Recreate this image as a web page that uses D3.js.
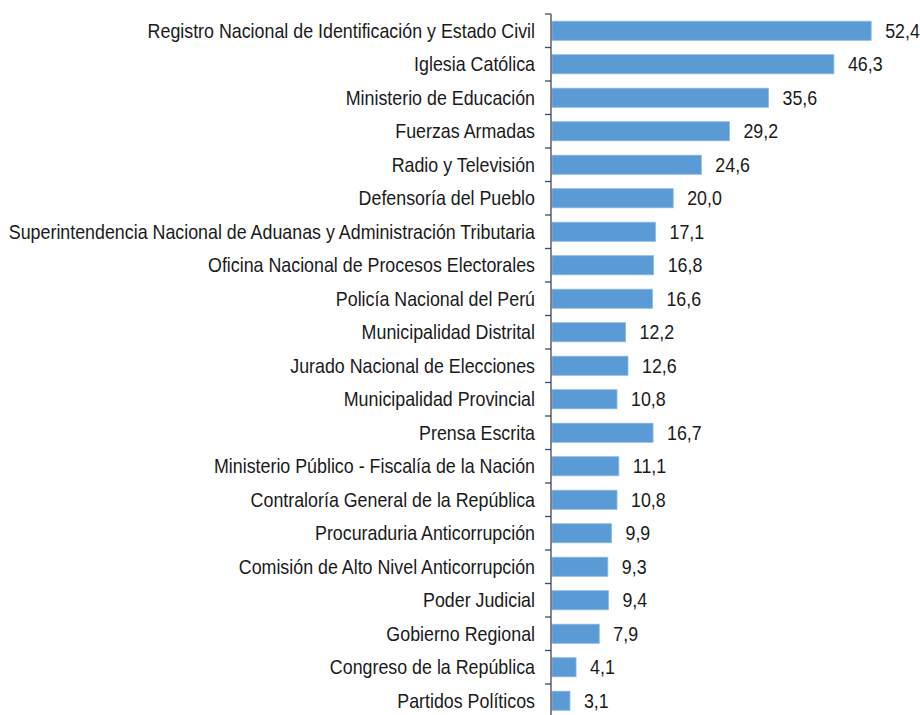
<!DOCTYPE html>
<html>
<head>
<meta charset="utf-8">
<script src="https://cdn.jsdelivr.net/npm/d3@7"></script>
<style>
  body { margin: 0; background: #fff; }
  text { font-family: "Liberation Sans", Arial, sans-serif; fill: #1a1a1a; }
</style>
</head>
<body>
<div id="chart"></div>
<script>
// categories, top to bottom
const institutions = [
  "Registro Nacional de Identificación y Estado Civil",
  "Iglesia Católica",
  "Ministerio de Educación",
  "Fuerzas Armadas",
  "Radio y Televisión",
  "Defensoría del Pueblo",
  "Superintendencia Nacional de Aduanas y Administración Tributaria",
  "Oficina Nacional de Procesos Electorales",
  "Policía Nacional del Perú",
  "Municipalidad Distrital",
  "Jurado Nacional de Elecciones",
  "Municipalidad Provincial",
  "Prensa Escrita",
  "Ministerio Público - Fiscalía de la Nación",
  "Contraloría General de la República",
  "Procuraduria Anticorrupción",
  "Comisión de Alto Nivel Anticorrupción",
  "Poder Judicial",
  "Gobierno Regional",
  "Congreso de la República",
  "Partidos Políticos"
];

const confianza = [52.4, 46.3, 35.6, 29.2, 24.6, 20.0, 17.1, 16.8, 16.6, 12.2, 12.6,
  10.8, 16.7, 11.1, 10.8, 9.9, 9.3, 9.4, 7.9, 4.1, 3.1];

const data = institutions.map((name, i) => ({ name: name, value: confianza[i] }));

const width = 920;
const height = 715;
const fontSize = 19.5;
const squeeze = 0.915; // the original text is narrow (Arial Narrow look)

const svg = d3.select("#chart").append("svg")
  .attr("width", width)
  .attr("height", height);

// scales
const x = d3.scaleLinear()
  .domain([0, 60])
  .range([551, 551 + 60 * 6.11]);

const y = d3.scaleBand()
  .domain(institutions)
  .range([14, 14 + institutions.length * 33.5])
  .paddingInner(0.43)
  .paddingOuter(0.215);

// bars
svg.selectAll(".bar")
  .data(data)
  .enter()
  .append("rect")
    .attr("class", "bar")
    .attr("x", x(0) + 1)
    .attr("y", d => y(d.name))
    .attr("width", d => x(d.value) - x(0) - 1)
    .attr("height", y.bandwidth())
    .style("fill", "#5b9bd5")
    .style("stroke", "#8db8e3")
    .style("stroke-width", 0.8);

// value labels
svg.selectAll(".val")
  .data(data)
  .enter()
  .append("text")
    .attr("class", "val")
    .attr("transform", d => `translate(${ x(d.value) + 14 }, ${ y(d.name) + y.bandwidth() / 2 }) scale(${ squeeze }, 1)`)
    .attr("dy", "0.36em")
    .style("font-size", fontSize + "px")
    .text(d => d3.format(".1f")(d.value).replace(".", ","));

// category axis with ticks between categories
const axisG = svg.append("g").attr("class", "axis");
const step = y.step();
const y0 = y.range()[0];

axisG.append("line")
  .attr("x1", x(0)).attr("x2", x(0))
  .attr("y1", y0).attr("y2", y.range()[1])
  .style("stroke", "#3b4a5c")
  .style("stroke-width", 1.3);

axisG.selectAll(".tick")
  .data(d3.range(institutions.length + 1))
  .enter()
  .append("line")
    .attr("x1", x(0) - 6).attr("x2", x(0))
    .attr("y1", i => y0 + i * step).attr("y2", i => y0 + i * step)
    .style("stroke", "#3b4a5c")
    .style("stroke-width", 1.3);

axisG.selectAll(".label")
  .data(institutions)
  .enter()
  .append("text")
    .attr("class", "label")
    .attr("transform", d => `translate(${ x(0) - 16 }, ${ y(d) + y.bandwidth() / 2 }) scale(${ squeeze }, 1)`)
    .attr("dy", "0.36em")
    .attr("text-anchor", "end")
    .style("font-size", fontSize + "px")
    .text(d => d);
</script>
</body>
</html>
